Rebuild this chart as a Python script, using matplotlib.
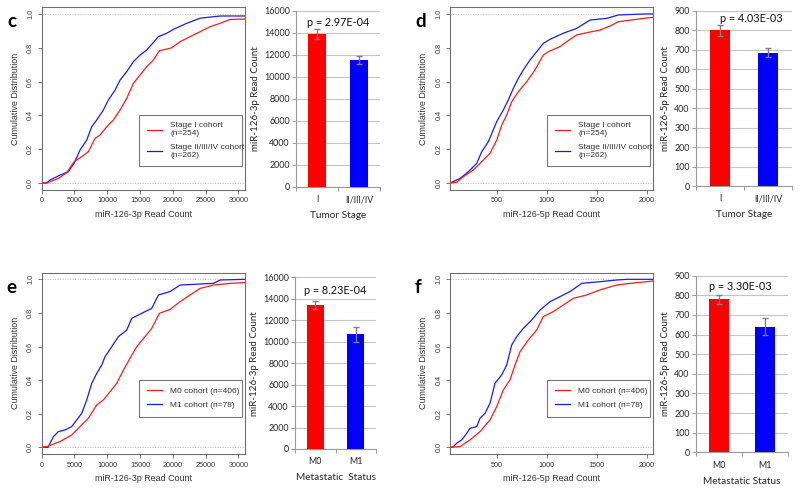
import matplotlib
matplotlib.use('Agg')
import matplotlib.pyplot as plt

# ---- data ----
# panel c: ECDF of miR-126-3p by tumor stage
c_stage1_x = [0, 760, 2540, 3810, 4930, 6100, 7110, 8130, 8900, 9920, 10930, 11950, 12970, 13980,
              15000, 16020, 17030, 17950, 19580, 20080, 21100, 22630, 24160, 25680, 27210, 28740, 31000]
c_stage1_y = [0, 0, 0.027, 0.061, 0.126, 0.156, 0.185, 0.264, 0.284, 0.333, 0.373, 0.432, 0.501, 0.590,
              0.639, 0.688, 0.728, 0.783, 0.797, 0.807, 0.836, 0.866, 0.895, 0.925, 0.945, 0.968, 0.97]
c_stage2_x = [0, 760, 1270, 2790, 4060, 4930, 5840, 6860, 7630, 8390, 9400, 10160, 11190, 11950, 12970,
              13980, 15000, 16020, 17800, 19080, 20080, 22130, 24160, 27210, 31000]
c_stage2_y = [0, 0, 0.018, 0.047, 0.067, 0.116, 0.195, 0.254, 0.333, 0.373, 0.432, 0.491, 0.550, 0.609, 0.659,
              0.718, 0.757, 0.787, 0.866, 0.886, 0.909, 0.945, 0.975, 0.988, 0.988]

# panel d: ECDF of miR-126-5p by tumor stage
d_stage1_x = [33, 100, 166, 266, 366, 433, 500, 550, 600, 650, 716, 800, 883, 966, 1016, 1133, 1200,
              1300, 1400, 1533, 1633, 1716, 1983, 2063]
d_stage1_y = [0, 0.005, 0.037, 0.077, 0.136, 0.176, 0.254, 0.343, 0.402, 0.481, 0.540, 0.599, 0.669, 0.757,
              0.777, 0.807, 0.836, 0.876, 0.889, 0.905, 0.929, 0.954, 0.975, 0.98]
d_stage2_x = [33, 133, 216, 300, 350, 416, 500, 566, 616, 666, 716, 766, 833, 900, 966, 1033, 1166, 1300,
              1433, 1600, 1716, 1983, 2063]
d_stage2_y = [0, 0.027, 0.067, 0.116, 0.185, 0.244, 0.363, 0.432, 0.491, 0.560, 0.619, 0.669, 0.728, 0.777,
              0.826, 0.850, 0.886, 0.915, 0.964, 0.974, 0.994, 1.0, 1.0]

# panel e: ECDF of miR-126-3p by metastatic status
e_m0_x = [0, 760, 2790, 4570, 5840, 7120, 8390, 9410, 10420, 11440, 12460, 13470, 14490, 15760, 16780,
          17950, 19580, 21100, 22630, 24160, 26190, 28740, 31000]
e_m0_y = [0, 0.004, 0.034, 0.073, 0.123, 0.173, 0.252, 0.282, 0.331, 0.381, 0.460, 0.530, 0.599, 0.659, 0.708,
          0.798, 0.821, 0.867, 0.907, 0.946, 0.966, 0.976, 0.98]
e_m1_x = [0, 1000, 1270, 1780, 2540, 3560, 4570, 5340, 6100, 6870, 7630, 8390, 9160, 9660, 10680, 11690,
          12970, 13730, 15260, 16780, 17800, 19580, 21100, 26190, 27210, 31000]
e_m1_y = [0, 0, 0.024, 0.063, 0.093, 0.103, 0.123, 0.163, 0.202, 0.282, 0.381, 0.440, 0.490, 0.540, 0.599,
          0.659, 0.698, 0.768, 0.798, 0.827, 0.907, 0.927, 0.966, 0.976, 0.996, 1.0]

# panel f: ECDF of miR-126-5p by metastatic status
f_m0_x = [33, 133, 233, 333, 433, 500, 566, 633, 683, 733, 816, 900, 966, 1066, 1166, 1266, 1400, 1533,
          1700, 1833, 1983, 2063]
f_m0_y = [0, 0.004, 0.044, 0.093, 0.163, 0.242, 0.341, 0.401, 0.490, 0.569, 0.639, 0.698, 0.778, 0.808,
          0.847, 0.887, 0.907, 0.937, 0.966, 0.976, 0.985, 0.99]
f_m1_x = [33, 60, 100, 150, 200, 233, 300, 333, 383, 433, 483, 550, 600, 650, 700, 766, 850, 933, 1033,
          1133, 1233, 1350, 1533, 1700, 1800, 2063]
f_m1_y = [0, 0, 0.024, 0.044, 0.083, 0.113, 0.123, 0.173, 0.202, 0.262, 0.381, 0.431, 0.490, 0.609, 0.659,
          0.708, 0.758, 0.817, 0.867, 0.897, 0.927, 0.976, 0.986, 0.996, 1.0, 1.0]

# bar charts: mean read counts with standard error
stage_cats = ['I', 'II/III/IV']
meta_cats = ['M0', 'M1']
c_means, c_errs = [13900, 11550], [450, 400]
d_means, d_errs = [800, 686], [30, 23]
e_means, e_errs = [13420, 10680], [400, 700]
f_means, f_errs = [781, 640], [23, 42]
c_p, d_p, e_p, f_p = 'p = 2.97E-04', 'p = 4.03E-03', 'p = 8.23E-04', 'p = 3.30E-03'

W, H = 800, 491
fig = plt.figure(figsize=(W / 100, H / 100), dpi=100)

R_FONT = 'Liberation Sans'
XL_FONT = 'Lato'


def add_axes_px(x0, y0, x1, y1):
    return fig.add_axes([x0 / W, 1 - y1 / H, (x1 - x0) / W, (y1 - y0) / H])


def ecdf_panel(box, xlim, xticks, xlabel, red, blue, labels):
    ax = add_axes_px(*box)
    for h in (0, 1):
        ax.axhline(h, color='#c0c0c0', lw=0.6, ls=(0, (1.5, 1.5)), zorder=1)
    ax.plot(red[0], red[1], color='#ff1a1a', lw=0.9, label=labels[0], zorder=3)
    ax.plot(blue[0], blue[1], color='#1a1aff', lw=0.9, label=labels[1], zorder=2)
    ax.set_xlim(*xlim)
    ax.set_ylim(-0.04, 1.04)
    ax.set_xticks(xticks)
    ax.set_xticklabels([str(t) for t in xticks], family=R_FONT, fontsize=5.2, color='#333333')
    yt = [0, 0.2, 0.4, 0.6, 0.8, 1.0]
    ax.set_yticks(yt)
    ax.set_yticklabels(['%.1f' % t for t in yt], family=R_FONT, fontsize=5.2, color='#333333',
                       rotation=90, va='center')
    ax.tick_params(length=3, width=0.6, color='#666666', pad=2.5)
    for s in ax.spines.values():
        s.set_color('#6e6e6e')
        s.set_linewidth(0.8)
    ax.set_xlabel(xlabel, family=R_FONT, fontsize=6.4, color='#333333', labelpad=4)
    ax.set_ylabel('Cumulative Distribution', family=R_FONT, fontsize=6.4, color='#333333', labelpad=5)
    leg = ax.legend(loc='upper left', bbox_to_anchor=(0.48, 0.0, 0.504, 0.41), mode='expand',
                    prop={'family': R_FONT, 'size': 6}, fancybox=False, edgecolor='#777777',
                    borderaxespad=0, handlelength=1.8, handletextpad=1.0, borderpad=0.9,
                    labelspacing=0.75, framealpha=1)
    leg.get_frame().set_linewidth(0.8)
    for t in leg.get_texts():
        t.set_color('#333333')
        t.set_linespacing(1.2)
    return ax


def bar_panel(box, cats, means, errs, ymax, ystep, ylabel, xlabel, ptext, pxy):
    ax = add_axes_px(*box)
    xs = list(range(len(cats)))
    ax.bar(xs, means, width=0.43, color=['#ff0000', '#0000ff'], zorder=3)
    ax.errorbar(xs, means, yerr=errs, fmt='none', ecolor='#808080', elinewidth=1.0,
                capsize=2.5, capthick=1.0, zorder=4)
    ax.set_xlim(-0.5, len(cats) - 0.5)
    ax.set_ylim(0, ymax)
    ax.set_yticks(list(range(0, ymax + 1, ystep)))
    ax.yaxis.grid(True, color='#c4c4c4', lw=0.8)
    ax.set_axisbelow(True)
    for s in ('top', 'right'):
        ax.spines[s].set_visible(False)
    for s in ('left', 'bottom'):
        ax.spines[s].set_color('#9a9a9a')
        ax.spines[s].set_linewidth(0.8)
    ax.set_xticks(xs)
    ax.set_xticklabels(cats)
    ax.set_xticks([x - 0.5 for x in xs] + [len(cats) - 0.5], minor=True)
    ax.tick_params(axis='x', which='major', length=0, pad=6)
    ax.tick_params(axis='x', which='minor', length=3, width=0.7, color='#9a9a9a')
    ax.tick_params(axis='y', length=3, width=0.7, color='#9a9a9a', pad=1.5)
    for t in ax.get_xticklabels() + ax.get_yticklabels():
        t.set_family(XL_FONT)
        t.set_fontsize(6.4)
        t.set_color('#262626')
    ax.set_ylabel(ylabel, family=XL_FONT, fontsize=7, color='#262626', labelpad=3)
    ax.set_xlabel(xlabel, family=XL_FONT, fontsize=7.2, color='#262626', labelpad=5)
    ax.text(pxy[0], pxy[1], ptext, ha='center', va='center', family=XL_FONT, fontsize=7.8,
            color='#111111', zorder=5)
    return ax


ecdf_panel((41.7, 7.2, 245, 189.8), (0, 31000), list(range(0, 30001, 5000)), 'miR-126-3p Read Count',
           (c_stage1_x, c_stage1_y), (c_stage2_x, c_stage2_y),
           ['Stage I cohort\n(n=254)', 'Stage II/III/IV cohort\n(n=262)'])
ecdf_panel((450, 7.2, 653, 189.8), (33, 2063), [500, 1000, 1500, 2000], 'miR-126-5p Read Count',
           (d_stage1_x, d_stage1_y), (d_stage2_x, d_stage2_y),
           ['Stage I cohort\n(n=254)', 'Stage II/III/IV cohort\n(n=262)'])
ecdf_panel((41.7, 272.6, 245, 454), (0, 31000), list(range(0, 30001, 5000)), 'miR-126-3p Read Count',
           (e_m0_x, e_m0_y), (e_m1_x, e_m1_y),
           ['M0 cohort (n=406)', 'M1 cohort (n=78)'])
ecdf_panel((450, 272.6, 653, 454), (33, 2063), [500, 1000, 1500, 2000], 'miR-126-5p Read Count',
           (f_m0_x, f_m0_y), (f_m1_x, f_m1_y),
           ['M0 cohort (n=406)', 'M1 cohort (n=78)'])

bar_panel((296, 11, 380, 187), stage_cats, c_means, c_errs, 16000, 2000, 'miR-126-3p Read Count',
          'Tumor Stage', c_p, (0.5, 15000))
bar_panel((696, 11, 792, 186), stage_cats, d_means, d_errs, 900, 100, 'miR-126-5p Read Count',
          'Tumor Stage', d_p, (0.66, 862))
bar_panel((295, 277.3, 376, 449), meta_cats, e_means, e_errs, 16000, 2000, 'miR-126-3p Read Count',
          'Metastatic  Status', e_p, (0.49, 14816))
bar_panel((696, 275.7, 788, 452.3), meta_cats, f_means, f_errs, 900, 100, 'miR-126-5p Read Count',
          'Metastatic Status', f_p, (0.46, 844))

for letter, (lx, ly) in zip('cdef', [(7, 27.3), (415, 27.3), (6.7, 292.7), (415, 292.7)]):
    fig.text(lx / W, 1 - ly / H, letter, family=XL_FONT, fontsize=13.5, fontweight='bold',
             va='baseline', ha='left')

fig.savefig('out.png', dpi=100)
